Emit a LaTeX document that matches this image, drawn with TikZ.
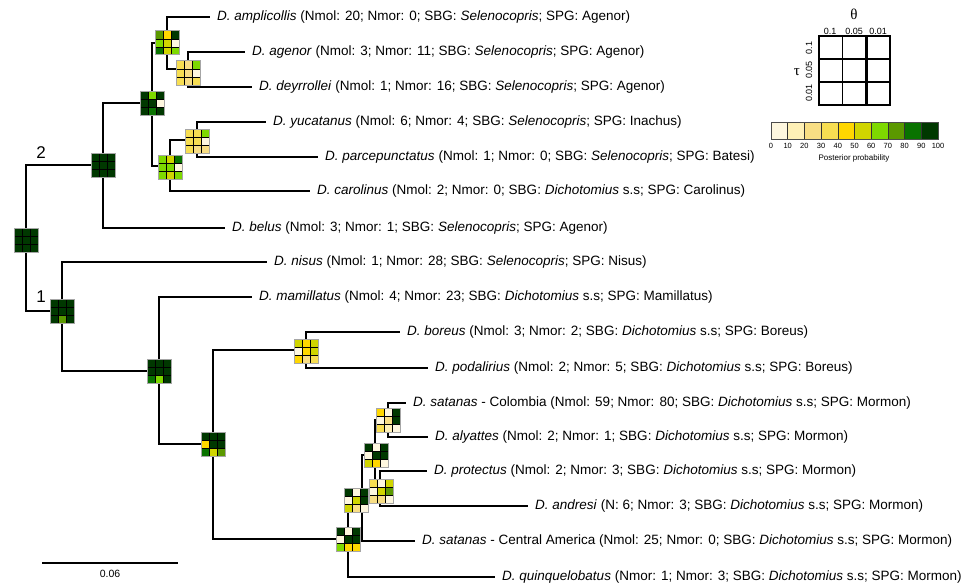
\documentclass[tikz,border=0pt]{standalone}
\usepackage{fontspec}
\setmainfont{Liberation Sans}
\newfontfamily\greekfont{Liberation Serif}
\definecolor{pp1}{HTML}{FEF7DF}
\definecolor{pp2}{HTML}{FEF0B6}
\definecolor{pp3}{HTML}{F8DE84}
\definecolor{pp4}{HTML}{F7DE52}
\definecolor{pp5}{HTML}{FFD700}
\definecolor{pp6}{HTML}{D0D500}
\definecolor{pp7}{HTML}{7ED900}
\definecolor{pp8}{HTML}{5B9900}
\definecolor{pp9}{HTML}{097300}
\definecolor{pp10}{HTML}{003800}
\tikzset{
  branch/.style={line width=1.4pt, black},
  leaf/.style={anchor=west, inner xsep=7pt, inner ysep=0pt, font=\fontsize{13.5}{15}\selectfont},
  cellline/.style={line width=0.8pt, black},
  gridborder/.style={line width=1pt, gray!70},
  clab/.style={font=\fontsize{17}{19}\selectfont, inner sep=0pt},
  ticklab/.style={font=\fontsize{7.5}{8}\selectfont, inner sep=0pt},
  axlab/.style={font=\fontsize{9}{10}\selectfont, inner sep=0pt},
}
\newcommand\hgrid[2]{%
  \begin{scope}[shift={#1}]
    \foreach \cv [count=\i from 0] in {#2} {
      \pgfmathtruncatemacro\cc{mod(\i,3)}
      \pgfmathtruncatemacro\rr{div(\i,3)}
      \fill[pp\cv] ({-12+8*\cc},{-12+8*\rr}) rectangle ++(8,8);
    }
    \foreach \k in {-4,4} {
      \draw[cellline] (\k,-12) -- (\k,12);
      \draw[cellline] (-12,\k) -- (12,\k);
    }
    \draw[gridborder] (-12,-12) rectangle (12,12);
  \end{scope}}
\begin{document}
\begin{tikzpicture}[x=1pt,y=-1pt]
\useasboundingbox (0,0) rectangle (979,586);
% internal nodes
\coordinate (R) at (26,240);
\coordinate (N2) at (103,165);
\coordinate (A) at (152,103);
\coordinate (B) at (167,43);
\coordinate (C) at (188,69);
\coordinate (D) at (170,166);
\coordinate (E) at (197,140);
\coordinate (N1) at (62,311);
\coordinate (F) at (159,371);
\coordinate (G) at (213,444);
\coordinate (H) at (306,350);
\coordinate (I) at (348,539);
\coordinate (J) at (362,500);
\coordinate (K) at (375,455);
\coordinate (L) at (388,420);
\coordinate (M) at (380,489);
% leaves
\node[leaf] (amp) at (210,17) {\textit{D. amplicollis} (Nmol: 20; Nmor: 0; SBG: \textit{Selenocopris}; SPG: Agenor)};
\node[leaf] (age) at (245,52) {\textit{D. agenor} (Nmol: 3; Nmor: 11; SBG: \textit{Selenocopris}; SPG: Agenor)};
\node[leaf] (dey) at (252,87) {\textit{D. deyrrollei} (Nmol: 1; Nmor: 16; SBG: \textit{Selenocopris}; SPG: Agenor)};
\node[leaf] (yuc) at (266,122) {\textit{D. yucatanus} (Nmol: 6; Nmor: 4; SBG: \textit{Selenocopris}; SPG: Inachus)};
\node[leaf] (par) at (318,157) {\textit{D. parcepunctatus} (Nmol: 1; Nmor: 0; SBG: \textit{Selenocopris}; SPG: Batesi)};
\node[leaf] (car) at (310,191) {\textit{D. carolinus} (Nmol: 2; Nmor: 0; SBG: \textit{Dichotomius} s.s; SPG: Carolinus)};
\node[leaf] (bel) at (225,228) {\textit{D. belus} (Nmol: 3; Nmor: 1; SBG: \textit{Selenocopris}; SPG: Agenor)};
\node[leaf] (nis) at (267,262) {\textit{D. nisus} (Nmol: 1; Nmor: 28; SBG: \textit{Selenocopris}; SPG: Nisus)};
\node[leaf] (mam) at (252,297) {\textit{D. mamillatus} (Nmol: 4; Nmor: 23; SBG: \textit{Dichotomius} s.s; SPG: Mamillatus)};
\node[leaf] (bor) at (400,332) {\textit{D. boreus} (Nmol: 3; Nmor: 2; SBG: \textit{Dichotomius} s.s; SPG: Boreus)};
\node[leaf] (pod) at (428,368) {\textit{D. podalirius} (Nmol: 2; Nmor: 5; SBG: \textit{Dichotomius} s.s; SPG: Boreus)};
\node[leaf] (satc) at (406,403) {\textit{D. satanas} - Colombia (Nmol: 59; Nmor: 80; SBG: \textit{Dichotomius} s.s; SPG: Mormon)};
\node[leaf] (aly) at (428,437) {\textit{D. alyattes} (Nmol: 2; Nmor: 1; SBG: \textit{Dichotomius} s.s; SPG: Mormon)};
\node[leaf] (pro) at (427,471) {\textit{D. protectus} (Nmol: 2; Nmor: 3; SBG: \textit{Dichotomius} s.s; SPG: Mormon)};
\node[leaf] (and) at (528,506) {\textit{D. andresi} (N: 6; Nmor: 3; SBG: \textit{Dichotomius} s.s; SPG: Mormon)};
\node[leaf] (sata) at (415,541) {\textit{D. satanas} - Central America (Nmol: 25; Nmor: 0; SBG: \textit{Dichotomius} s.s; SPG: Mormon)};
\node[leaf] (qui) at (495,577) {\textit{D. quinquelobatus} (Nmor: 1; Nmor: 3; SBG: \textit{Dichotomius} s.s; SPG: Mormon)};
% branches
\draw[branch] (R) |- (N2); \draw[branch] (R) |- (N1);
\draw[branch] (N2) |- (A); \draw[branch] (N2) |- (bel.west);
\draw[branch] (A) |- (B); \draw[branch] (A) |- (D);
\draw[branch] (B) |- (amp.west); \draw[branch] (B) |- (C);
\draw[branch] (C) |- (age.west); \draw[branch] (C) |- (dey.west);
\draw[branch] (D) |- (E); \draw[branch] (D) |- (car.west);
\draw[branch] (E) |- (yuc.west); \draw[branch] (E) |- (par.west);
\draw[branch] (N1) |- (nis.west); \draw[branch] (N1) |- (F);
\draw[branch] (F) |- (mam.west); \draw[branch] (F) |- (G);
\draw[branch] (G) |- (H); \draw[branch] (G) |- (I);
\draw[branch] (H) |- (bor.west); \draw[branch] (H) |- (pod.west);
\draw[branch] (I) |- (J); \draw[branch] (I) |- (qui.west);
\draw[branch] (J) |- (K); \draw[branch] (J) |- (sata.west);
\draw[branch] (K) |- (L); \draw[branch] (K) |- (M);
\draw[branch] (L) |- (satc.west); \draw[branch] (L) |- (aly.west);
\draw[branch] (M) |- (pro.west); \draw[branch] (M) |- (and.west);
% grids
\hgrid{(26,240)}{10,10,10,10,10,10,10,10,10}
\hgrid{(103,165)}{10,10,10,10,10,10,10,10,10}
\hgrid{(152,103)}{10,7,10,10,10,1,10,9,10}
\hgrid{(167,43)}{8,5,10,7,6,1,9,6,7}
\hgrid{(188,73)}{4,3,7,4,3,1,4,3,4}
\hgrid{(197,141)}{4,4,7,4,4,1,4,3,3}
\hgrid{(170,167)}{7,6,9,7,7,1,7,6,7}
\hgrid{(62,311)}{10,10,10,10,10,10,10,8,10}
\hgrid{(159,371)}{10,10,10,10,10,10,9,7,10}
\hgrid{(213,444)}{10,10,10,5,10,10,9,6,8}
\hgrid{(306,351)}{6,5,6,1,5,6,5,3,4}
\hgrid{(388,420)}{5,1,10,1,3,10,4,2,1}
\hgrid{(376,455)}{10,1,10,1,10,10,6,5,1}
\hgrid{(381,491)}{4,1,6,1,6,8,3,3,1}
\hgrid{(356,500)}{10,1,10,1,6,10,6,3,1}
\hgrid{(348,539)}{10,1,10,1,10,10,7,5,5}
% clade labels
\node[clab] (c2) at (41,153) {2};
\node[clab] (c1) at (41,297) {1};
% scale bar
\coordinate (sb1) at (42,563);
\coordinate (sb2) at (178,563);
\draw[line width=1.3pt] (sb1) -- (sb2);
\node[font=\fontsize{10.5}{11}\selectfont, inner sep=0pt] (sblab) at (110,574) {0.06};
% legend grid
\node[font=\greekfont\fontsize{15}{16}\selectfont, inner sep=0pt] (theta) at (854,14) {θ};
\node[font=\greekfont\fontsize{15}{16}\selectfont, inner sep=0pt] (tau) at (797,72) {τ};
\node[axlab] (th1) at (830,31) {0.1};
\node[axlab] (th2) at (854,31) {0.05};
\node[axlab] (th3) at (878,31) {0.01};
\node[axlab, rotate=90] (ta1) at (809,48) {0.1};
\node[axlab, rotate=90] (ta2) at (809,70) {0.05};
\node[axlab, rotate=90] (ta3) at (809,93) {0.01};
\draw[line width=1.8pt] (842.5,36) -- (842.5,105);
\draw[line width=2.6pt] (866.5,36) -- (866.5,105);
\draw[line width=1.6pt] (819,59) -- (890,59);
\draw[line width=2.6pt] (819,82) -- (890,82);
\draw[line width=2pt] (819,36) rectangle (890,105);
% colour bar
\foreach \i in {1,...,10} {
  \fill[pp\i] ({771+16.7*(\i-1)},122) rectangle ++(16.7,17);
}
\foreach \i in {1,...,9} {
  \draw[line width=0.6pt, black!80] ({771+16.7*\i},122) -- ++(0,17);
}
\draw[line width=0.7pt, black!70] (771,122) rectangle (938,139);
\foreach \v [count=\i from 0] in {0,10,20,30,40,50,60,70,80,90,100} {
  \node[ticklab] at ({771+16.7*\i},146) {\v};
}
\node[font=\fontsize{8}{9}\selectfont, inner sep=0pt] (pplab) at (854,158) {Posterior probability};
\end{tikzpicture}
\end{document}
